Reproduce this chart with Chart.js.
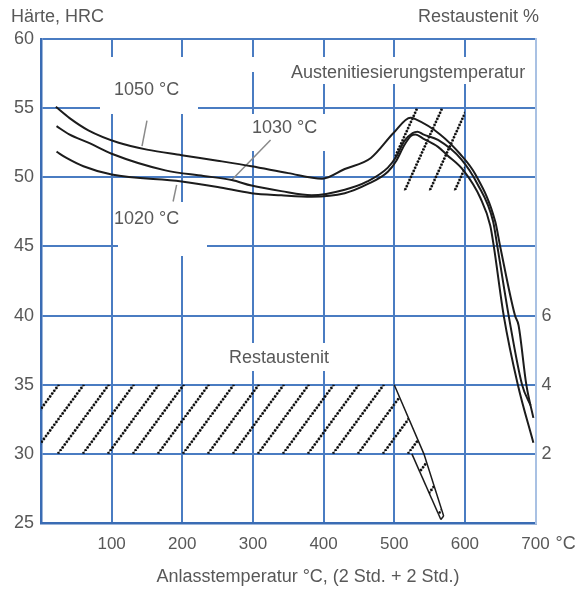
<!DOCTYPE html>
<html><head><meta charset="utf-8">
<script src="https://cdn.jsdelivr.net/npm/chart.js@4"></script>
<style>html,body{margin:0;padding:0;background:#fff}#wrap{width:582px;height:589px;position:relative}</style>
</head><body><div id="wrap"><canvas id="c"></canvas></div>
<script>
// ---- data (tempering temperature °C / hardness HRC) ----
const temp1050 = [21,40,67,110,150,199,250,298,350,398,430,467,499,523,530,565,593,615,643,650,671,676,687,697];
const hrc1050  = [55.1,54.3,53.4,52.5,52.0,51.6,51.2,50.8,50.3,49.9,50.6,51.4,53.2,54.3,54.2,53.1,51.7,50.2,46.8,45.0,40.0,39.3,35.0,32.6];
const temp1030 = [22,40,67,100,176,230,270,298,340,383,430,462,491,503,514,526,533,541,562,595,618,640,646,662,681,693];
const hrc1030  = [53.7,53.1,52.5,51.7,50.5,50.1,49.8,49.4,49.0,48.7,49.1,49.7,50.7,51.5,52.6,53.2,53.3,53.1,52.7,51.3,49.5,46.8,45.0,40.0,35.0,33.5];
const temp1020 = [22,36,60,100,199,250,298,340,383,430,462,491,503,514,524,530,541,562,575,598,622,636,641,655,675,697];
const hrc1020  = [51.85,51.4,50.8,50.2,49.7,49.3,48.85,48.7,48.6,48.85,49.5,50.4,51.2,52.3,53.0,53.1,52.8,52.2,51.6,50.5,48.5,46.5,45.0,40.0,35.0,30.8];
// retained austenite band (%), right axis
const raTempUpper = [0,500,542,570];
const raUpper     = [4,4,2,0.2];
const raTempLower = [0,525,566];
const raLower     = [2,2,0.1];
const raCapTemp   = [566,570];
const raCap       = [0.1,0.2];
// hatched zone near secondary hardness peak
const secTemp   = [500,600];
const secTop    = [55,55];
const secBottom = [49,49];
// label leader lines
const lead1050T = [150,143], lead1050H = [54.1,52.25];
const lead1030T = [325,270], lead1030H = [52.7,49.8];
const lead1020T = [192,187], lead1020H = [49.45,48.25];
// ticks
const xTicks = [100,200,300,400,500,600,700];
const yTicks = [25,30,35,40,45,50,55,60];
const raTicks = [2,4,6];

function pts(xs, ys){ return xs.map((x,i)=>({x:x, y:ys[i]})); }

const FONT = '"Liberation Sans", Arial, sans-serif';
const TXT = '#585858';
const GRID = '#4a7cc2';
const BORDER = '#3a6cb4';
const INK = '#1c1c1c';

const canvas = document.getElementById('c');
const ctx0 = canvas.getContext('2d');
function makeHatch(w, h, ox, oy){
  const c=document.createElement('canvas'); c.width=w; c.height=h;
  const g=c.getContext('2d');
  const seg=(x0,y0,x1,y1)=>{g.beginPath();g.moveTo(x0,y0);g.lineTo(x1,y1);g.stroke();};
  g.strokeStyle='rgba(60,60,60,0.6)'; g.lineWidth=1.2;
  for (const dx of [-w,0,w]) seg(dx,h,dx+w,0);
  const L = Math.hypot(w,h); const n = Math.round(L/3.4); const per = L/n;
  g.strokeStyle='#0a0a0a'; g.lineWidth=2.6; g.setLineDash([per*0.55, per*0.45]);
  for (const dx of [-w,0,w]) seg(dx,h,dx+w,0);
  const p = ctx0.createPattern(c,'repeat');
  p.setTransform(new DOMMatrix([1,0,0,1,ox,oy]));
  return p;
}
const hatchBand = makeHatch(25, 34, 10, 9);
const hatchZone = makeHatch(25, 55, 5, 25);

const masks = [
  [100,57,98,57],[198,57,92,15],[290,57,238,27],
  [223,114,129,37],[197,343,190,28],[118,202,89,54]
];

const decor = {
  id:'decor',
  beforeDatasetsDraw(chart){
    const c=chart.ctx; c.save(); c.fillStyle='#fff';
    masks.forEach(m=>c.fillRect(m[0],m[1],m[2],m[3]));
    c.restore();
  },
  afterDraw(chart){
    const c=chart.ctx; c.save();
    c.fillStyle=TXT; c.font='18px '+FONT; c.textBaseline='middle';
    c.textAlign='left';
    c.fillText('Härte, HRC', 11, 17);
    c.fillText('Austenitiesierungstemperatur', 291, 73);
    c.fillText('1050 °C', 114, 90);
    c.fillText('1030 °C', 252, 128);
    c.fillText('1020 °C', 114, 219);
    c.fillText('Restaustenit', 229, 358);
    c.textAlign='right';
    c.fillText('Restaustenit %', 539, 17);
    // unit after the last x tick
    const xs=chart.scales.x; const px=xs.getPixelForValue(700);
    c.textAlign='left';
    c.fillText(' °C', px + c.measureText('700').width/2, 544);
    c.textAlign='center';
    c.fillText('Anlasstemperatur °C, (2 Std. + 2 Std.)', 308, 577);
    c.restore();
  }
};

const curve = (label, xs, ys)=>({label, data:pts(xs,ys), borderColor:INK, borderWidth:2, pointRadius:0, fill:false, cubicInterpolationMode:'monotone', yAxisID:'y'});
const leader = (xs, ys)=>({label:'leader', data:pts(xs,ys), borderColor:'#8a8a8a', borderWidth:1.5, pointRadius:0, fill:false, yAxisID:'y'});
const segCol = {borderColor: s => s.p0DataIndex===0 ? 'rgba(0,0,0,0)' : INK};

new Chart(canvas, {
  type:'line',
  data:{ datasets:[
    curve('1050 °C', temp1050, hrc1050),
    curve('1030 °C', temp1030, hrc1030),
    curve('1020 °C', temp1020, hrc1020),
    leader(lead1050T, lead1050H),
    leader(lead1030T, lead1030H),
    leader(lead1020T, lead1020H),
    {label:'zoneTop', data:pts(secTemp,secTop), borderColor:'rgba(0,0,0,0)', borderWidth:0, pointRadius:0, fill:'+1', backgroundColor:hatchZone, yAxisID:'y'},
    {label:'zoneBottom', data:pts(secTemp,secBottom), borderColor:'rgba(0,0,0,0)', borderWidth:0, pointRadius:0, fill:false, yAxisID:'y'},
    {label:'Restaustenit max', data:pts(raTempUpper,raUpper), borderColor:INK, segment:segCol, borderWidth:1.5, pointRadius:0, fill:'+1', backgroundColor:hatchBand, yAxisID:'y2'},
    {label:'Restaustenit min', data:pts(raTempLower,raLower), borderColor:INK, segment:segCol, borderWidth:1.5, pointRadius:0, fill:false, yAxisID:'y2'},
    {label:'cap', data:pts(raCapTemp,raCap), borderColor:INK, borderWidth:1.5, pointRadius:0, fill:false, yAxisID:'y2'}
  ]},
  options:{
    responsive:true, maintainAspectRatio:false, animation:false, devicePixelRatio:1,
    layout:{padding:{top:39,left:0,right:0,bottom:0}},
    plugins:{legend:{display:false}, tooltip:{enabled:false}},
    scales:{
      x:{type:'linear', min:0, max:700,
        afterBuildTicks(s){ s.ticks=[0].concat(xTicks).map(v=>({value:v})); },
        afterFit(s){ s.height=66; },
        ticks:{padding:11, font:{family:FONT,size:17}, color:TXT, maxRotation:0, autoSkip:false,
          callback:v=> v===0 ? '' : String(v)},
        grid:{drawTicks:false, lineWidth:2, color:c=> (c.tick && (c.tick.value===0||c.tick.value===700)) ? 'rgba(0,0,0,0)' : GRID},
        border:{display:true, color:BORDER, width:2.5}
      },
      y:{type:'linear', position:'left', min:25, max:60,
        afterBuildTicks(s){ s.ticks=yTicks.map(v=>({value:v})); },
        afterFit(s){ s.width=41; },
        ticks:{padding:7, font:{family:FONT,size:18}, color:TXT},
        grid:{drawTicks:false, lineWidth:2, color:GRID},
        border:{display:true, color:BORDER, width:2.5}
      },
      y2:{type:'linear', position:'right', min:0, max:14,
        afterBuildTicks(s){ s.ticks=raTicks.map(v=>({value:v})); },
        afterFit(s){ s.width=46.5; },
        ticks:{padding:6, font:{family:FONT,size:18}, color:TXT},
        grid:{drawOnChartArea:false, drawTicks:false},
        border:{display:true, color:'#a9c1e3', width:2}
      }
    }
  },
  plugins:[decor]
});
</script>
</body></html>
